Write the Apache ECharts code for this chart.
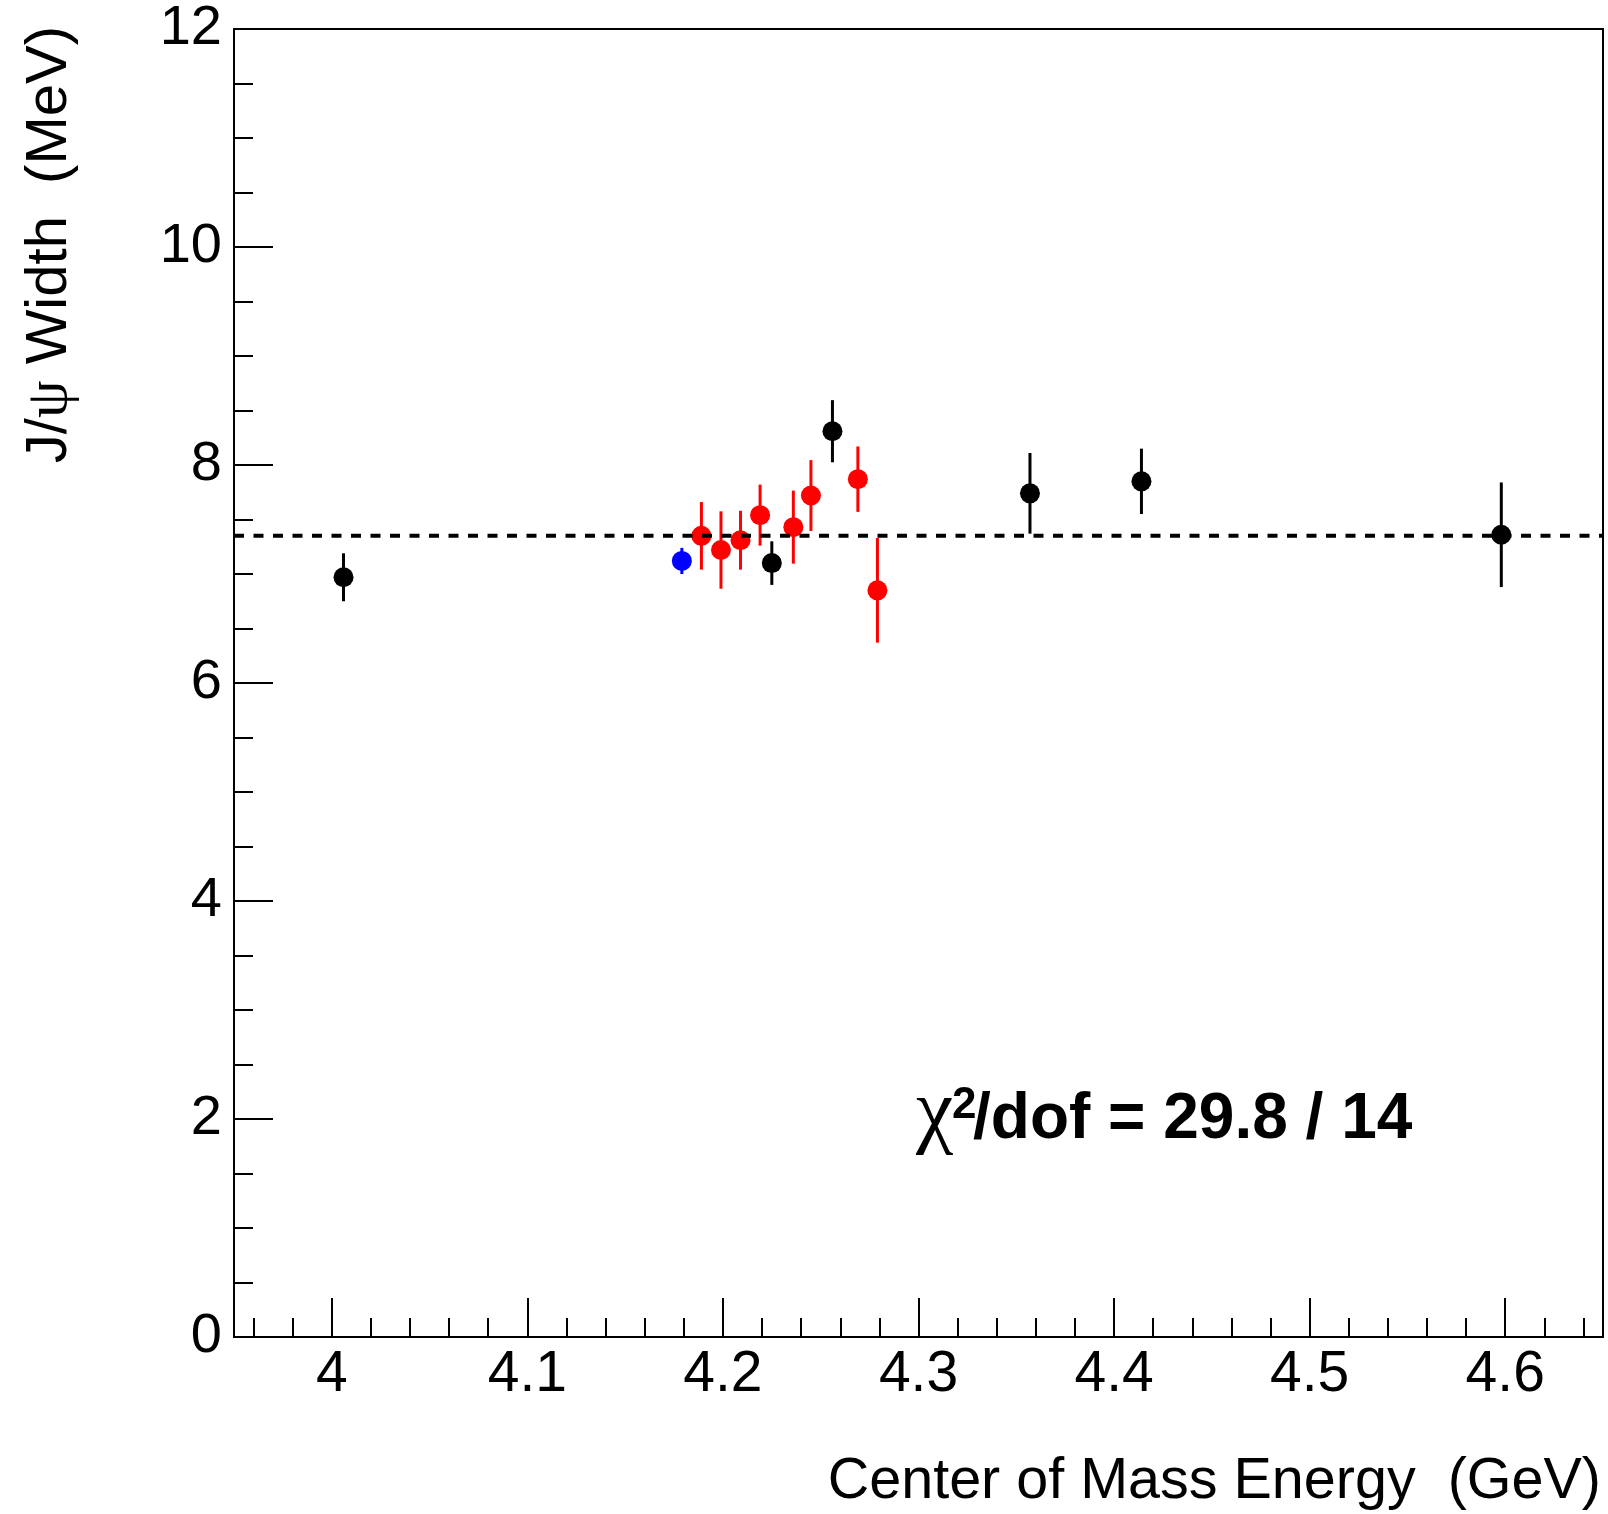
<!DOCTYPE html>
<html>
<head>
<meta charset="utf-8">
<script src="https://cdn.jsdelivr.net/npm/echarts@6/dist/echarts.min.js"></script>
<style>
  html, body { margin: 0; padding: 0; background: #ffffff; }
  #chart { width: 1608px; height: 1514px; }
</style>
</head>
<body>
<div id="chart"></div>
<script>
// J/psi width per centre-of-mass energy point (GeV -> MeV, symmetric errors)
const blackEnergy = [4.006, 4.225, 4.256, 4.357, 4.414, 4.598];
const blackWidth  = [6.97, 7.10, 8.31, 7.74, 7.85, 7.36];
const blackError  = [0.22, 0.20, 0.285, 0.37, 0.30, 0.48];

const redEnergy = [4.189, 4.199, 4.209, 4.219, 4.236, 4.245, 4.269, 4.279];
const redWidth  = [7.35, 7.22, 7.31, 7.54, 7.43, 7.72, 7.87, 6.85];
const redError  = [0.31, 0.355, 0.27, 0.28, 0.335, 0.325, 0.30, 0.48];

const blueEnergy = [4.179];
const blueWidth  = [7.12];
const blueError  = [0.12];

// constant fit over all points
const fitWidth = 7.35;
const fitChi2 = '29.8';
const fitDof = '14';

// axis layout
const xRange = [3.95, 4.65];
const xMajorTicks = [4.0, 4.1, 4.2, 4.3, 4.4, 4.5, 4.6];
const xMinorTicks = [3.96, 3.98, 4.02, 4.04, 4.06, 4.08, 4.12, 4.14, 4.16, 4.18,
                     4.22, 4.24, 4.26, 4.28, 4.32, 4.34, 4.36, 4.38, 4.42, 4.44,
                     4.46, 4.48, 4.52, 4.54, 4.56, 4.58, 4.62, 4.64];
const yRange = [0, 12];
const yStep = 2;

const FONT = '"Liberation Sans", Arial, Helvetica, sans-serif';
const SERIF = '"Liberation Serif", "DejaVu Serif", serif';

function errorBars(energy, width, error, color) {
  return {
    type: 'custom',
    xAxisIndex: 0,
    yAxisIndex: 0,
    silent: true,
    z: 2,
    data: energy.map((e, i) => [e, width[i] - error[i], width[i] + error[i]]),
    encode: { x: 0, y: [1, 2] },
    renderItem: function (params, api) {
      const lo = api.coord([api.value(0), api.value(1)]);
      const hi = api.coord([api.value(0), api.value(2)]);
      return {
        type: 'line',
        shape: { x1: lo[0], y1: lo[1], x2: hi[0], y2: hi[1] },
        style: { stroke: color, lineWidth: 3 }
      };
    }
  };
}

function markers(energy, width, color) {
  return {
    type: 'scatter',
    xAxisIndex: 0,
    yAxisIndex: 0,
    silent: true,
    z: 3,
    symbol: 'circle',
    symbolSize: 20,
    itemStyle: { color: color, opacity: 1 },
    data: energy.map((e, i) => [e, width[i]])
  };
}

const chart = echarts.init(document.getElementById('chart'), null, { renderer: 'canvas' });

chart.setOption({
  animation: false,
  backgroundColor: '#ffffff',
  grid: {
    left: 234, right: 5, top: 29, bottom: 177,
    show: true, borderColor: '#000000', borderWidth: 2, backgroundColor: 'transparent'
  },
  xAxis: [
    {
      type: 'value',
      min: xRange[0], max: xRange[1],
      position: 'bottom',
      axisLine: { show: true, lineStyle: { color: '#000000', width: 2 } },
      axisTick: { show: true, inside: true, length: 39, customValues: xMajorTicks,
                  lineStyle: { color: '#000000', width: 2 } },
      axisLabel: { show: true, customValues: xMajorTicks, margin: 10,
                   fontSize: 57, color: '#000000', fontFamily: FONT,
                   formatter: v => String(Math.round(v * 10) / 10) },
      splitLine: { show: false }
    },
    {
      type: 'value',
      min: xRange[0], max: xRange[1],
      position: 'bottom',
      axisLine: { show: false },
      axisTick: { show: true, inside: true, length: 19, customValues: xMinorTicks,
                  lineStyle: { color: '#000000', width: 2 } },
      axisLabel: { show: false },
      splitLine: { show: false }
    }
  ],
  yAxis: {
    type: 'value',
    min: yRange[0], max: yRange[1], interval: yStep,
    axisLine: { show: true, lineStyle: { color: '#000000', width: 2 } },
    axisTick: { show: true, inside: true, length: 39, lineStyle: { color: '#000000', width: 2 } },
    minorTick: { show: true, splitNumber: 4, length: 19, lineStyle: { color: '#000000', width: 2 } },
    axisLabel: { margin: 12, fontSize: 56, color: '#000000', fontFamily: FONT },
    splitLine: { show: false },
    minorSplitLine: { show: false }
  },
  series: [
    errorBars(blackEnergy, blackWidth, blackError, '#000000'),
    errorBars(redEnergy, redWidth, redError, '#ff0000'),
    errorBars(blueEnergy, blueWidth, blueError, '#0000ff'),
    markers(blackEnergy, blackWidth, '#000000'),
    markers(redEnergy, redWidth, '#ff0000'),
    markers(blueEnergy, blueWidth, '#0000ff'),
    {
      type: 'line',
      xAxisIndex: 0,
      yAxisIndex: 0,
      silent: true,
      z: 4,
      symbol: 'none',
      lineStyle: { color: '#000000', width: 4, type: [10, 9.5] },
      data: [[xRange[0], fitWidth], [xRange[1], fitWidth]]
    }
  ],
  graphic: [
    {
      type: 'text',
      x: 1601, y: 1482,
      style: { text: 'Center of Mass Energy  (GeV)', font: '57.5px ' + FONT, fill: '#000000',
               align: 'right', verticalAlign: 'middle' }
    },
    {
      type: 'text',
      x: 50, y: 26,
      rotation: Math.PI / 2,
      style: {
        text: '{s|J/}{g|\u03c8}{s| Width  (MeV)}',
        align: 'right', verticalAlign: 'middle',
        rich: {
          s: { font: '58px ' + FONT, fill: '#000000' },
          g: { font: '60px ' + SERIF, fill: '#000000' }
        }
      }
    },
    {
      type: 'text',
      x: 916, y: 1115,
      style: { text: '\u03c7', font: '84px ' + SERIF,
               fill: '#000000', align: 'left', verticalAlign: 'middle' }
    },
    {
      type: 'text',
      x: 952, y: 1106,
      style: { text: '2', font: 'bold 44px ' + FONT, fill: '#000000',
               align: 'left', verticalAlign: 'middle' }
    },
    {
      type: 'text',
      x: 973, y: 1120,
      style: { text: '/dof = ' + fitChi2 + ' / ' + fitDof, font: 'bold 64px ' + FONT,
               fill: '#000000', align: 'left', verticalAlign: 'middle' }
    }
  ]
});
</script>
</body>
</html>
